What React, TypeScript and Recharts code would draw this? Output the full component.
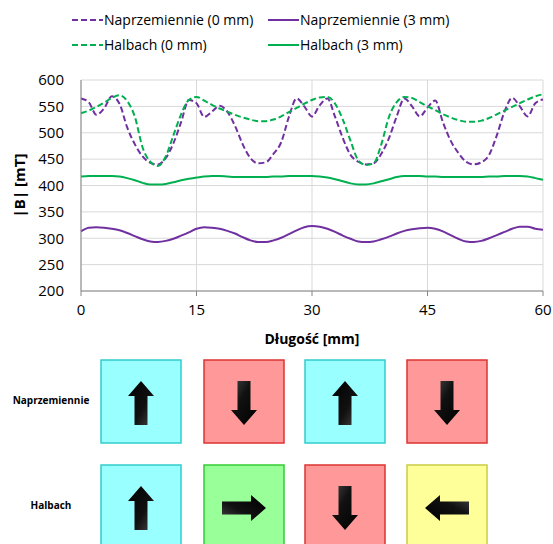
import { CartesianGrid, Label, Line, LineChart, XAxis, YAxis } from "recharts";

// Długość [mm]
const lengthMm = [
  0, 1, 2, 3, 4, 5, 6, 7, 8, 9, 10, 11, 12, 13, 14, 15, 16, 17, 18, 19, 20,
  21, 22, 23, 24, 25, 26, 27, 28, 29, 30, 31, 32, 33, 34, 35, 36, 37, 38, 39,
  40, 41, 42, 43, 44, 45, 46, 47, 48, 49, 50, 51, 52, 53, 54, 55, 56, 57, 58,
  59, 60,
];

// |B| [mT]
const naprzem0 = [
  565, 558, 534, 546, 569, 555, 510, 478, 455, 443, 440, 452, 480, 520, 562,
  556, 530, 540, 551, 540, 513, 478, 452, 442, 444, 460, 482, 530, 565, 550,
  531, 552, 565, 530, 490, 458, 445, 440, 442, 460, 490, 531, 565, 550, 531,
  548, 561, 520, 485, 462, 445, 440, 444, 458, 495, 540, 566, 550, 531, 556,
  563,
];
const naprzem3 = [
  313, 320, 321, 320, 318, 315, 310, 304, 298, 294, 293, 295, 299, 305, 311,
  318, 321, 320, 318, 314, 309, 302, 296, 293, 293, 296, 301, 308, 315, 321,
  323, 322, 318, 312, 305, 299, 294, 293, 294, 298, 303, 309, 314, 317, 319,
  320, 318, 313, 306, 299, 294, 293, 295, 300, 306, 312, 318, 322, 322, 318,
  316,
];
const halbach0 = [
  537, 542, 549, 557, 566, 571, 560, 530, 472, 445, 437, 455, 495, 535, 562,
  568, 561, 553, 546, 540, 534, 529, 525, 522, 522, 525, 531, 539, 547, 555,
  562, 567, 568, 555, 525, 485, 448, 439, 442, 478, 530, 558, 568, 566, 558,
  550, 543, 535, 529, 524, 521, 521, 523, 528, 535, 542, 549, 556, 563, 569,
  573,
];
const halbach3 = [
  417, 418, 418, 418, 418, 417, 414, 410, 405, 402, 402, 403, 406, 410, 413,
  415, 417, 418, 418, 417, 416, 416, 416, 416, 416, 417, 417, 418, 418, 418,
  418, 417, 415, 412, 408, 404, 402, 402, 404, 408, 412, 416, 418, 418, 418,
  417, 417, 416, 416, 416, 416, 416, 416, 417, 417, 418, 418, 418, 417, 414,
  411,
];

const xTicks = [0, 15, 30, 45, 60];
const yTicks = [200, 250, 300, 350, 400, 450, 500, 550, 600];

const PURPLE = "#7030a0";
const GREEN = "#00b050";
const FONT = "'Open Sans', sans-serif";

const series = [
  { key: "n0", name: "Naprzemiennie (0 mm)", color: PURPLE, dash: "6 3" },
  { key: "n3", name: "Naprzemiennie (3 mm)", color: PURPLE, dash: undefined },
  { key: "h0", name: "Halbach (0 mm)", color: GREEN, dash: "6 3" },
  { key: "h3", name: "Halbach (3 mm)", color: GREEN, dash: undefined },
];

const data = lengthMm.map((x, i) => ({
  x,
  n0: naprzem0[i],
  n3: naprzem3[i],
  h0: halbach0[i],
  h3: halbach3[i],
}));

function LegendBox() {
  return (
    <div
      style={{
        position: "absolute",
        top: 10,
        left: 72,
        display: "grid",
        gridTemplateColumns: "196px 200px",
        rowGap: 6,
        fontFamily: FONT,
        fontSize: 14,
        color: "#000",
      }}
    >
      {series.map((s) => (
        <div key={s.key} style={{ display: "flex", alignItems: "center" }}>
          <svg width={31} height={10} style={{ marginRight: 1 }}>
            <line
              x1={0}
              y1={5}
              x2={31}
              y2={5}
              stroke={s.color}
              strokeWidth={2}
              strokeDasharray={s.dash}
            />
          </svg>
          <span>{s.name}</span>
        </div>
      ))}
    </div>
  );
}

function Arrow({ cx, cy, rot }: { cx: number; cy: number; rot: number }) {
  // pointing up, 44 long
  const d = "M0,-22 L13,-7 L6.5,-7 L6.5,22 L-6.5,22 L-6.5,-7 L-13,-7 Z";
  return (
    <path
      d={d}
      fill="url(#arrowGrad)"
      transform={`translate(${cx},${cy}) rotate(${rot})`}
    />
  );
}

const boxFill: Record<string, string[]> = {
  c: ["#99ffff", "#33cccc"],
  r: ["#ff9999", "#dd3333"],
  g: ["#99ff99", "#33cc33"],
  y: ["#ffff99", "#cccc44"],
};

const rows = [
  { label: "Naprzemiennie", y: 360, cells: [["c", 0], ["r", 180], ["c", 0], ["r", 180]] },
  { label: "Halbach", y: 465, cells: [["c", 0], ["g", 90], ["r", 180], ["y", -90]] },
];
const boxX = [101, 204, 305, 407];

function Magnets() {
  return (
    <svg
      width={553}
      height={544}
      style={{ position: "absolute", left: 0, top: 0, pointerEvents: "none" }}
    >
      <defs>
        <linearGradient id="arrowGrad" x1="0" y1="0" x2="1" y2="1">
          <stop offset="0%" stopColor="#000" />
          <stop offset="60%" stopColor="#111" />
          <stop offset="100%" stopColor="#444" />
        </linearGradient>
      </defs>
      {rows.map((row) => (
        <g key={row.label}>
          <text
            x={51}
            y={row.y + 41}
            textAnchor="middle"
            dominantBaseline="middle"
            fontFamily={FONT}
            fontSize={10}
            fontWeight="bold"
            fill="#000"
          >
            {row.label}
          </text>
          {row.cells.map(([k, rot], i) => (
            <g key={i}>
              <rect
                x={boxX[i]}
                y={row.y}
                width={80}
                height={83}
                fill={boxFill[k as string][0]}
                stroke={boxFill[k as string][1]}
                strokeWidth={1.5}
              />
              <Arrow cx={boxX[i] + 40} cy={row.y + 43} rot={rot as number} />
            </g>
          ))}
        </g>
      ))}
    </svg>
  );
}

export default function App() {
  return (
    <div
      style={{
        position: "absolute",
        left: 0,
        top: 0,
        width: 553,
        height: 544,
        background: "#fff",
        overflow: "hidden",
      }}
    >
      <LineChart
        width={553}
        height={350}
        data={data}
        margin={{ top: 80, right: 10, bottom: 0, left: 0 }}
      >
        <CartesianGrid stroke="#d9d9d9" strokeWidth={1} />
        <XAxis
          dataKey="x"
          type="number"
          domain={[0, 60]}
          ticks={xTicks}
          height={59}
          stroke="#868686"
          tickSize={5}
          tickMargin={8}
          tick={{ fill: "#000", fontSize: 15, fontFamily: FONT }}
        >
          <Label
            value="Długość [mm]"
            position="insideBottom"
            offset={6}
            style={{ fontFamily: FONT, fontSize: 14, fontWeight: "bold", fill: "#000" }}
          />
        </XAxis>
        <YAxis
          type="number"
          domain={[200, 600]}
          ticks={yTicks}
          width={81}
          stroke="#868686"
          tickLine={false}
          tickSize={0}
          tickMargin={17}
          tick={{ fill: "#000", fontSize: 15, fontFamily: FONT }}
        >
          <Label
            value="|B| [mT]"
            angle={-90}
            position="insideLeft"
            offset={20}
            style={{
              fontFamily: FONT,
              fontSize: 15,
              fontWeight: "bold",
              fill: "#000",
              textAnchor: "middle",
            }}
          />
        </YAxis>
        {series.map((s) => (
          <Line
            key={s.key}
            type="monotone"
            dataKey={s.key}
            name={s.name}
            stroke={s.color}
            strokeWidth={2}
            strokeDasharray={s.dash}
            dot={false}
            isAnimationActive={false}
          />
        ))}
      </LineChart>
      <LegendBox />
      <Magnets />
    </div>
  );
}
